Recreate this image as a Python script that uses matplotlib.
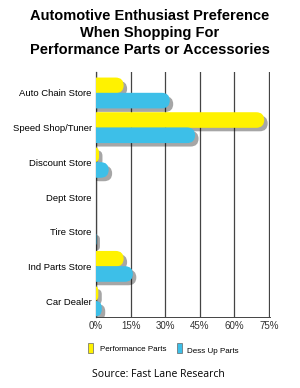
import matplotlib.pyplot as plt
import matplotlib.patheffects as pe
from matplotlib.patches import FancyBboxPatch, Rectangle

stores = ['Auto Chain Store', 'Speed Shop/Tuner', 'Discount Store', 'Dept Store',
          'Tire Store', 'Ind Parts Store', 'Car Dealer']
performance = [12, 73, 1.3, 0, 0, 12, 1]
dress_up = [32, 43, 5.5, 0, 0.2, 16, 2.5]
ticks = [0, 15, 30, 45, 60, 75]

yellow = '#fff200'
blue = '#3dbfe8'
lab = 'Liberation Sans'

fig = plt.figure(figsize=(3, 3.88), dpi=100)
ax = fig.add_axes([0.32, 0.183, 0.58, 0.631])

y = list(range(len(stores)))
h = 0.45
b1 = ax.barh([i - 0.22 for i in y], performance, height=h, color=yellow)
b2 = ax.barh([i + 0.22 for i in y], dress_up, height=h, color=blue)

# swap plain bars for rounded ones with a drop shadow
asp = 0.23 / 3.5
for bars in (b1, b2):
    for p in bars:
        w = p.get_width()
        if w <= 0:
            continue
        r = min(3.5, (w + 3.5) / 2)
        box = FancyBboxPatch((-3.5, p.get_y()), w + 3.5, p.get_height(),
                             boxstyle='round,pad=0,rounding_size=%f' % r,
                             mutation_aspect=asp, facecolor=p.get_facecolor(),
                             edgecolor='none', zorder=3)
        box.set_path_effects([pe.SimplePatchShadow(offset=(2.5, -2.5), shadow_rgbFace='k', alpha=0.35),
                              pe.Normal()])
        ax.add_patch(box)
        p.set_visible(False)

ax.set_xlim(0, 75.5)
ax.set_ylim(6.46, -0.6)
ax.set_xticks(ticks)
ax.set_xticklabels([f'{t}%' for t in ticks], family=lab, fontsize=7, color='#333333')
ax.set_yticks(y)
ax.set_yticklabels(stores, family=lab, fontsize=6.8)
ax.tick_params(length=0, pad=3)
ax.grid(axis='x', color='#444444', linewidth=0.9)
ax.set_axisbelow(True)
for s in ['top', 'right']:
    ax.spines[s].set_visible(False)
ax.spines['left'].set_color('#444444')
ax.spines['bottom'].set_color('#444444')
ax.spines['left'].set_linewidth(0.9)
ax.spines['bottom'].set_linewidth(0.7)

fig.text(0.5, 0.978, 'Automotive Enthusiast Preference\nWhen Shopping For\nPerformance Parts or Accessories',
         ha='center', va='top', fontsize=10.5, fontweight='bold', family='Liberation Sans',
         linespacing=1.3)

# legend
fig.patches.append(Rectangle((0.293, 0.09), 0.017, 0.027, transform=fig.transFigure,
                             facecolor=yellow, edgecolor='#666666', linewidth=0.5))
fig.text(0.333, 0.098, 'Performance Parts', fontsize=5.8, family=lab, va='center')
fig.patches.append(Rectangle((0.59, 0.09), 0.017, 0.027, transform=fig.transFigure,
                             facecolor=blue, edgecolor='#666666', linewidth=0.5))
fig.text(0.623, 0.093, 'Dess Up Parts', fontsize=5.8, family=lab, va='center')

fig.text(0.307, 0.036, 'Source: Fast Lane Research', fontsize=7.5, family='Open Sans', va='center')

plt.savefig('out.png')
